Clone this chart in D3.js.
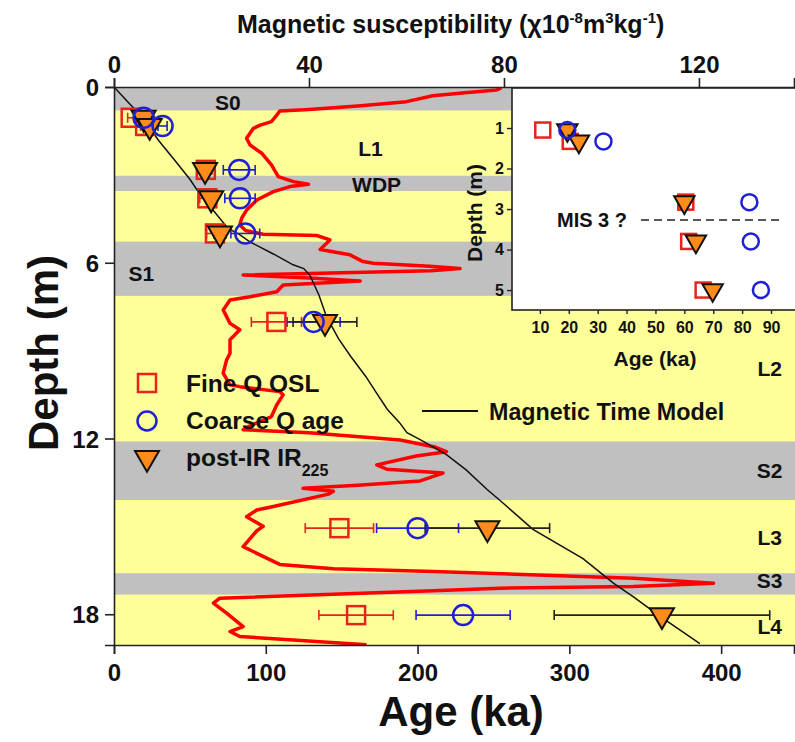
<!DOCTYPE html>
<html>
<head>
<meta charset="utf-8">
<script src="https://cdn.jsdelivr.net/npm/d3@7"></script>
<style>
  body { margin: 0; background: #fff; }
  svg text { font-family: Arial, "Liberation Sans", sans-serif; }
</style>
</head>
<body>
<script>
// size of page
var w = 795, h = 742;

// sample depths (m) and ages (ka)
var sampleDepth = [1.05, 1.33, 2.83, 3.8, 5.0, 8.02, 15.06, 18.03];
var fineAge = [11, 20.5, 60.5, 61.5, 66.5, 107, 148.5, 159.5];
var fineErr = [2, 3, 4, 5, 5.5, 16.5, 22.5, 24.5];
var coarseAge = [19.5, 32, 82.5, 83, 86.5, 131.5, 200, 230];
var coarseErr = [3, 3, 10.5, 10, 9.5, 17.5, 27, 31];
var pirAge = [19.5, 23.5, 60, 64, 69.8, 139, 246, 361];
var pirErr = [3, 3, 3, 3.5, 4, 21, 41, 71];

// magnetic time model
var modelAge = [0, 9, 20, 29, 40, 50, 57, 66, 75, 83, 90, 105, 118, 125, 129, 135, 140, 148, 156, 166, 173, 180, 188, 193, 202, 219, 232, 246, 254, 276, 309, 329, 342, 360, 386];
var modelDepth = [0, 0.5, 1.1, 1.8, 2.5, 3.15, 3.69, 4.25, 4.82, 5.05, 5.3, 5.7, 6.07, 6.2, 6.42, 7.1, 7.84, 8.6, 9.2, 9.89, 10.45, 11.0, 11.45, 11.8, 12.05, 12.55, 13.07, 13.75, 14.1, 15.1, 16.1, 16.94, 17.4, 18.08, 19.0];

// magnetic susceptibility curve
var msValue = [79.5, 78.5, 72, 65.4, 60, 50, 40, 34, 33.4, 32.3, 30, 28.6, 27.2, 27.9, 30.3, 32.3, 33.7, 36.8, 39.9, 36.1, 32.7, 29.3, 27.2, 26.2, 25.8, 27, 30.6, 41.6, 44.3, 42.3, 48.4, 51.1, 53.2, 64.8, 71, 65, 26.5, 40, 50.5, 34.7, 33.4, 27.9, 23.8, 22.4, 23.8, 25.8, 23.8, 23.8, 23.1, 22.4, 23.8, 25.8, 34, 34.7, 33.4, 32.3, 27.2, 26.5, 40, 58.7, 66, 68.2, 62, 53.9, 56, 67.5, 62.8, 50, 38.8, 45, 44, 32.7, 29.3, 27.2, 30.6, 29.3, 28, 26.5, 29.3, 34, 45, 65.5, 106.5, 123, 106.5, 79.2, 65.5, 21.7, 20.4, 23.1, 26.5, 23.8, 25.8, 51.8];
var msDepth = [0.03, 0.1, 0.2, 0.3, 0.5, 0.65, 0.77, 0.82, 0.96, 1.18, 1.3, 1.41, 1.75, 1.98, 2.26, 2.66, 3.06, 3.23, 3.32, 3.4, 3.57, 3.86, 4.2, 4.48, 4.71, 4.9, 5.03, 5.07, 5.22, 5.55, 5.73, 5.96, 6.02, 6.12, 6.2, 6.27, 6.42, 6.52, 6.62, 6.76, 6.99, 7.16, 7.27, 7.61, 8.07, 8.29, 8.63, 9.09, 9.32, 9.77, 10.17, 10.23, 10.4, 10.51, 10.85, 11.25, 11.62, 11.7, 11.8, 12.05, 12.3, 12.45, 12.6, 12.9, 13.05, 13.18, 13.45, 13.6, 13.7, 13.8, 13.9, 14.32, 14.44, 14.67, 15.0, 15.15, 15.4, 15.69, 15.92, 16.3, 16.45, 16.54, 16.77, 16.94, 17.05, 17.11, 17.2, 17.45, 17.62, 17.96, 18.42, 18.59, 18.76, 19.04];

// soil bands (grey)
var bandTop = [0, 3.03, 5.28, 12.1, 16.6];
var bandBottom = [0.8, 3.55, 7.13, 14.1, 17.33];

// unit labels
var unitNames = ["S0", "L1", "WDP", "S1", "L2", "S2", "L3", "S3", "L4"];
var unitDepth = [0.8, 2.37, 3.57, 6.62, 9.85, 13.35, 15.62, 17.1, 18.68];
var unitAge = [75, 169, 173, 18, 432, 432, 432, 432, 432];

// ticks
var ageTicks = [0, 100, 200, 300, 400];
var msTicks = [0, 40, 80, 120];
var depthTicks = [0, 6, 12, 18];
var insetAgeTicks = [10, 20, 30, 40, 50, 60, 70, 80, 90];
var insetDepthTicks = [1, 2, 3, 4, 5];
var mis3Depth = 3.27;

var red = "#e8231b", blue = "#1f1fd6", orange = "#ff8c1a";
var yellow = "#ffff99", grey = "#c0c0c0";

var svg = d3.select("body").append("svg")
    .attr("width", w)
    .attr("height", h);

var x = d3.scaleLinear().domain([0, 448]).range([114, 794]);
var xm = d3.scaleLinear().domain([0, 139.5]).range([114, 794]);
var y = d3.scaleLinear().domain([0, 19.05]).range([87, 645]);

var pLeft = 114, pRight = 795, pTop = 87, pBottom = 645;

svg.append("clipPath").attr("id", "plot")
   .append("rect").attr("x", pLeft).attr("y", pTop)
   .attr("width", pRight - pLeft).attr("height", pBottom - pTop);

// background
svg.append("rect").attr("x", pLeft).attr("y", pTop)
   .attr("width", pRight - pLeft).attr("height", pBottom - pTop)
   .attr("fill", yellow);

svg.selectAll("rect.band")
   .data(bandTop)
   .enter().append("rect")
   .attr("class", "band")
   .attr("x", pLeft)
   .attr("y", function(d) { return y(d); })
   .attr("width", pRight - pLeft)
   .attr("height", function(d, i) { return y(bandBottom[i]) - y(d); })
   .attr("fill", grey);

// unit names
svg.selectAll("text.unit")
   .data(unitNames)
   .enter().append("text")
   .attr("class", "unit")
   .attr("x", function(d, i) { return x(unitAge[i]); })
   .attr("y", function(d, i) { return y(unitDepth[i]); })
   .attr("text-anchor", "middle")
   .attr("font-size", 21)
   .attr("font-weight", "bold")
   .attr("fill", "#111")
   .text(function(d) { return d; });

var g = svg.append("g").attr("clip-path", "url(#plot)");

// magnetic susceptibility
g.append("path")
 .datum(msValue)
 .attr("d", d3.line()
    .x(function(d) { return xm(d); })
    .y(function(d, i) { return y(msDepth[i]); }))
 .attr("fill", "none")
 .attr("stroke", "#ff0000")
 .attr("stroke-width", 3.5)
 .attr("stroke-linejoin", "round");

// time model
g.append("path")
 .datum(modelAge)
 .attr("d", d3.line()
    .x(function(d) { return x(d); })
    .y(function(d, i) { return y(modelDepth[i]); }))
 .attr("fill", "none")
 .attr("stroke", "#111")
 .attr("stroke-width", 1.5);

// error bars + markers
function errBars(sel, ages, errs, depths, xs, ys, col, cap) {
  var eb = sel.append("g");
  ages.forEach(function(a, i) {
    var yy = ys(depths[i]);
    eb.append("line").attr("x1", xs(a - errs[i])).attr("x2", xs(a + errs[i]))
      .attr("y1", yy).attr("y2", yy).attr("stroke", col).attr("stroke-width", 1.6);
    [a - errs[i], a + errs[i]].forEach(function(e) {
      eb.append("line").attr("x1", xs(e)).attr("x2", xs(e))
        .attr("y1", yy - cap).attr("y2", yy + cap)
        .attr("stroke", col).attr("stroke-width", 1.6);
    });
  });
}

function markers(sel, xs, ys, n, sq, rc, tri, withErr) {
  var idx = d3.range(n);
  if (withErr) {
    errBars(sel, fineAge.slice(0, n), fineErr, sampleDepth, xs, ys, red, 5);
    errBars(sel, coarseAge.slice(0, n), coarseErr, sampleDepth, xs, ys, blue, 5);
    errBars(sel, pirAge.slice(0, n), pirErr, sampleDepth, xs, ys, "#222", 5);
  }

  sel.selectAll(null).data(idx).enter().append("rect")
     .attr("x", function(i) { return xs(fineAge[i]) - sq / 2; })
     .attr("y", function(i) { return ys(sampleDepth[i]) - sq / 2; })
     .attr("width", sq).attr("height", sq)
     .attr("fill", "none").attr("stroke", red).attr("stroke-width", 2.5);

  sel.selectAll(null).data(idx).enter().append("path")
     .attr("d", d3.symbol().type(d3.symbolTriangle).size(tri))
     .attr("transform", function(i) {
        return "translate(" + xs(pirAge[i]) + "," + ys(sampleDepth[i]) + ") rotate(180)";
     })
     .attr("fill", orange).attr("stroke", "#111").attr("stroke-width", 2);

  sel.selectAll(null).data(idx).enter().append("circle")
     .attr("cx", function(i) { return xs(coarseAge[i]); })
     .attr("cy", function(i) { return ys(sampleDepth[i]); })
     .attr("r", rc)
     .attr("fill", "none").attr("stroke", blue).attr("stroke-width", 2.5);
}

markers(g.append("g"), x, y, sampleDepth.length, 18, 10, 250, true);

// axes
var axL = svg.append("g").attr("transform", "translate(" + pLeft + ",0)")
   .call(d3.axisLeft(y).tickValues(depthTicks).tickSize(9).tickPadding(6).tickFormat(d3.format("d")));
var axB = svg.append("g").attr("transform", "translate(0," + pBottom + ")")
   .call(d3.axisBottom(x).tickValues(ageTicks).tickSize(9).tickPadding(10).tickFormat(d3.format("d")));
var axT = svg.append("g").attr("transform", "translate(0," + pTop + ")")
   .call(d3.axisTop(xm).tickValues(msTicks).tickSize(9).tickPadding(5).tickFormat(d3.format("d")));
[axL, axB, axT].forEach(function(a) {
  a.select(".domain").attr("stroke", "#222").attr("stroke-width", 1.6);
  a.selectAll(".tick line").attr("stroke", "#222").attr("stroke-width", 1.6);
  a.selectAll("text").attr("font-size", 24).attr("font-weight", "bold")
   .attr("fill", "#111").style("font-family", "Arial, 'Liberation Sans', sans-serif");
});
axL.selectAll("text").attr("dy", "0.36em");

// axis titles
svg.append("text")
   .attr("transform", "translate(58,353) rotate(-90)")
   .attr("text-anchor", "middle")
   .attr("font-size", 42).attr("font-weight", "bold").attr("fill", "#111")
   .text("Depth (m)");

svg.append("text")
   .attr("x", 461).attr("y", 726)
   .attr("text-anchor", "middle")
   .attr("font-size", 42).attr("font-weight", "bold").attr("fill", "#111")
   .text("Age (ka)");

var tt = svg.append("text")
   .attr("x", 237).attr("y", 33)
   .attr("font-size", 25).attr("font-weight", "bold").attr("fill", "#111");
tt.append("tspan").text("Magnetic susceptibility (\u03c710");
tt.append("tspan").attr("font-size", 15).attr("dy", -10).text("-8");
tt.append("tspan").attr("dy", 10).text("m");
tt.append("tspan").attr("font-size", 15).attr("dy", -10).text("3");
tt.append("tspan").attr("dy", 10).text("kg");
tt.append("tspan").attr("font-size", 15).attr("dy", -10).text("-1");
tt.append("tspan").attr("dy", 10).text(")");

// legend
var lg = svg.append("g");
lg.append("rect").attr("x", 147 - 9).attr("y", 383 - 9).attr("width", 18).attr("height", 18)
  .attr("fill", "none").attr("stroke", red).attr("stroke-width", 2.5);
lg.append("circle").attr("cx", 147).attr("cy", 421).attr("r", 9.5)
  .attr("fill", "none").attr("stroke", blue).attr("stroke-width", 2.5);
lg.append("path").attr("d", d3.symbol().type(d3.symbolTriangle).size(250)())
  .attr("transform", "translate(147,458) rotate(180)")
  .attr("fill", orange).attr("stroke", "#111").attr("stroke-width", 2);
lg.append("text").attr("x", 186).attr("y", 392).attr("font-size", 24.5).attr("font-weight", "bold").attr("fill", "#111").text("Fine Q OSL");
lg.append("text").attr("x", 186).attr("y", 429).attr("font-size", 24.5).attr("font-weight", "bold").attr("fill", "#111").text("Coarse Q age");
var pt = lg.append("text").attr("x", 186).attr("y", 466).attr("font-size", 24.5).attr("font-weight", "bold").attr("fill", "#111");
pt.append("tspan").text("post-IR IR");
pt.append("tspan").attr("font-size", 16).attr("dy", 10).text("225");

lg.append("line").attr("x1", 422).attr("x2", 478).attr("y1", 411).attr("y2", 411)
  .attr("stroke", "#111").attr("stroke-width", 1.8);
lg.append("text").attr("x", 489).attr("y", 420).attr("font-size", 23.3).attr("font-weight", "bold")
  .attr("fill", "#111").text("Magnetic Time Model");

// inset
var xi = d3.scaleLinear().domain([0, 98.3]).range([511, 795]);
var yi = d3.scaleLinear().domain([0, 5.48]).range([87.5, 309.5]);

svg.append("rect").attr("x", 512).attr("y", 88).attr("width", 290).attr("height", 222)
   .attr("fill", "#fff").attr("stroke", "#222").attr("stroke-width", 1.6);

var ig = svg.append("g");
ig.append("line").attr("x1", xi(45)).attr("x2", xi(93.5))
  .attr("y1", yi(mis3Depth)).attr("y2", yi(mis3Depth))
  .attr("stroke", "#222").attr("stroke-width", 1.5).attr("stroke-dasharray", "8,5");
ig.append("text").attr("x", 557).attr("y", 227).attr("font-size", 20).attr("font-weight", "bold")
  .attr("fill", "#111").text("MIS 3 ?");

markers(ig, xi, yi, 5, 15, 8, 180, false);

var iaL = svg.append("g").attr("transform", "translate(512,0)")
   .call(d3.axisLeft(yi).tickValues(insetDepthTicks).tickSize(5).tickPadding(3).tickFormat(d3.format("d")));
var iaB = svg.append("g").attr("transform", "translate(0,310)")
   .call(d3.axisBottom(xi).tickValues(insetAgeTicks).tickSize(4).tickPadding(8).tickFormat(d3.format("d")));
[iaL, iaB].forEach(function(a) {
  a.select(".domain").remove();
  a.selectAll(".tick line").attr("stroke", "#222").attr("stroke-width", 1.4);
  a.selectAll("text").attr("font-size", 16).attr("font-weight", "bold")
   .attr("fill", "#111").style("font-family", "Arial, 'Liberation Sans', sans-serif");
});

svg.append("text")
   .attr("transform", "translate(482,213) rotate(-90)")
   .attr("text-anchor", "middle")
   .attr("font-size", 21).attr("font-weight", "bold").attr("fill", "#111")
   .text("Depth (m)");
svg.append("text")
   .attr("x", 655).attr("y", 366)
   .attr("text-anchor", "middle")
   .attr("font-size", 21).attr("font-weight", "bold").attr("fill", "#111")
   .text("Age (ka)");
</script>
</body>
</html>
